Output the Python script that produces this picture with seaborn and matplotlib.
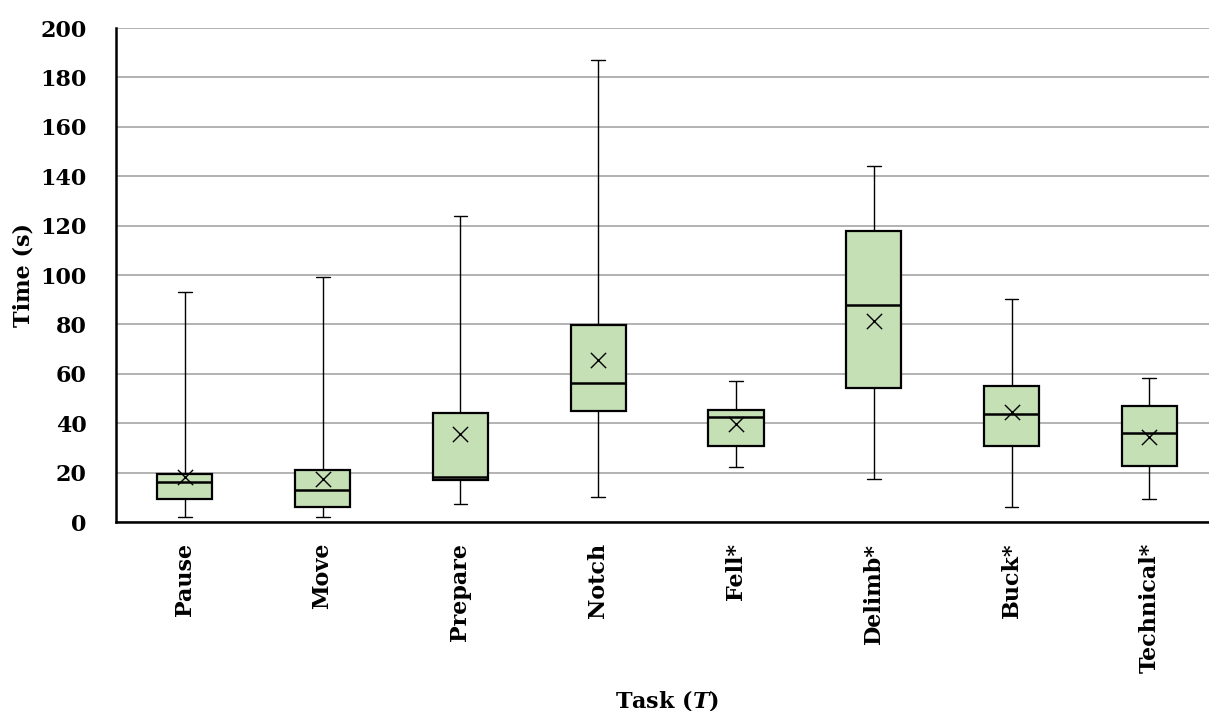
import seaborn as sns
import matplotlib.pyplot as plt
import numpy as np
import pandas as pd

# tasks and box stats (seconds)
tasks = ["Pause", "Move", "Prepare", "Notch", "Fell*", "Delimb*", "Buck*", "Technical*"]
mins = [2.2, 2.2, 7.2, 10.2, 22.1, 17.3, 6.1, 9.3]
q1s = [9.2, 6.1, 17.0, 44.8, 30.8, 54.2, 30.8, 22.7]
medians = [16.2, 13.1, 18.1, 56.3, 42.6, 88.0, 43.6, 36.1]
q3s = [19.5, 21.2, 44.3, 79.7, 45.3, 118.0, 55.0, 47.1]
maxs = [93.0, 99.3, 124.0, 187.0, 57.1, 144.0, 90.1, 58.2]
means = [18.1, 17.4, 35.7, 65.6, 39.7, 81.5, 44.6, 34.3]

# five points per task -> quartiles come out exactly, whiskers at min/max
rows = []
for i, t in enumerate(tasks):
    for v in [mins[i], q1s[i], medians[i], q3s[i], maxs[i]]:
        rows.append({"Task": t, "Time": v})
df = pd.DataFrame(rows)

sns.set_style("white")
plt.rcParams['font.family'] = ['DejaVu Serif']
plt.rcParams['font.weight'] = 'bold'
plt.rcParams['text.color'] = 'black'
plt.rcParams['axes.labelcolor'] = 'black'
plt.rcParams['xtick.color'] = 'black'
plt.rcParams['ytick.color'] = 'black'
plt.rcParams['mathtext.fontset'] = 'custom'
plt.rcParams['mathtext.it'] = 'DejaVu Serif:italic:bold'
plt.rcParams['mathtext.rm'] = 'DejaVu Serif:bold'

fs = 16

fig = plt.figure(figsize=(12.09, 7.11), dpi=100)
ax = fig.add_axes([0.0959, 0.2658, 0.9117, 0.6948])

sns.boxplot(data=df, x="Task", y="Time", order=tasks, whis=(0, 100), width=0.4,
            color="#C5E0B4", saturation=1, linecolor="black", linewidth=1.6,
            showfliers=False, ax=ax,
            whiskerprops=dict(linewidth=1.0), capprops=dict(linewidth=1.0),
            medianprops=dict(linewidth=1.8), zorder=3)

# shorter whisker caps, like the original
for ln in ax.lines:
    xd = np.asarray(ln.get_xdata(), dtype=float)
    yd = np.asarray(ln.get_ydata(), dtype=float)
    if len(xd) == 2 and yd[0] == yd[1]:
        span = abs(xd[1] - xd[0])
        if 0.1 < span < 0.3:
            c = xd.mean()
            ln.set_xdata([c - 0.05, c + 0.05])

ax.scatter(np.arange(len(tasks)), means, marker="x", s=120, color="black",
           linewidths=1.0, zorder=5)

ax.set_xlim(-0.5, 7.5)
ax.set_ylim(0, 200)
ax.set_yticks(np.arange(0, 201, 20))
ax.yaxis.grid(True, color="#A6A6A6", linewidth=1.2, zorder=0)
ax.set_axisbelow(True)

for s in ["top", "right"]:
    ax.spines[s].set_visible(False)
for s in ["left", "bottom"]:
    ax.spines[s].set_color("black")
    ax.spines[s].set_linewidth(1.8)

ax.set_xticks(np.arange(len(tasks)))
ax.set_xticklabels(tasks, rotation=90, fontsize=fs, fontweight="bold")
ax.set_xticks(np.arange(0.5, len(tasks) - 0.5, 1.0), minor=True)
ax.tick_params(axis="x", which="major", length=0, pad=15)
ax.tick_params(axis="x", which="minor", direction="in", length=7, width=1.5, color="black")
ax.tick_params(axis="y", direction="out", length=3, width=1.5, labelsize=fs, pad=18)
for lab in ax.get_yticklabels():
    lab.set_fontweight("bold")

ax.set_xlabel("Task ($\\mathit{T}$)", fontsize=fs, fontweight="bold")
ax.xaxis.set_label_coords(0.5, -0.335)
ax.set_ylabel("Time (s)", fontsize=fs, fontweight="bold", labelpad=4)

fig.savefig("out.png", dpi=100)
